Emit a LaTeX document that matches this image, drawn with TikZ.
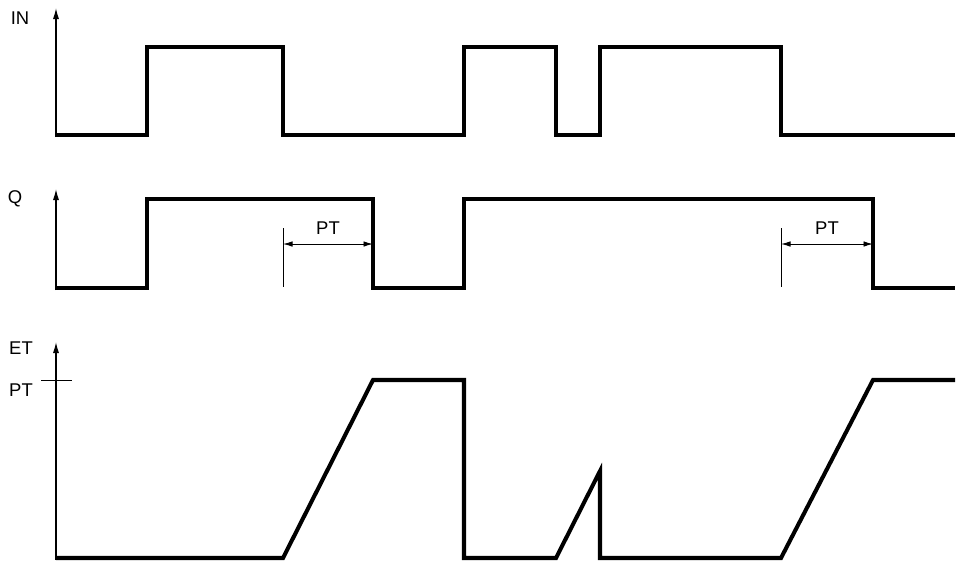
\documentclass[tikz,border=0pt]{standalone}
\usepackage{fontspec}
\setmainfont{Liberation Sans}
\usetikzlibrary{arrows.meta}
\tikzset{
  ax/.style={-{Latex[length=2.2mm,width=1.2mm]},line width=0.7pt},
  sig/.style={line width=2.3pt,line join=miter},
  hilf/.style={line width=0.5pt},
  mass/.style={{Latex[length=1.9mm,width=1.1mm]}-{Latex[length=1.9mm,width=1.1mm]},line width=0.5pt},
  lab/.style={font=\fontsize{10.5}{12}\selectfont,inner sep=0pt},
}
\begin{document}
\begin{tikzpicture}[x=0.02cm,y=-0.02cm]
  \useasboundingbox (0,0) rectangle (957,562);
  % IN
  \coordinate (in0) at (56,137);
  \coordinate (in1) at (56,8);
  \draw[ax] (in0) -- (in1);
  \node[lab] (inlab) at (20,18) {IN};
  \draw[sig] (56,135) -| (147,47) -| (283,135) -| (464,47) -| (556,135) -| (600,47) -| (781,135) -- (955,135);
  % Q
  \coordinate (q0) at (56,290);
  \coordinate (q1) at (56,189);
  \draw[ax] (q0) -- (q1);
  \node[lab] (qlab) at (15,199) {Q};
  \draw[sig] (56,288) -| (147,199) -| (373,288) -| (464,199) -| (873,288) -- (955,288);
  \draw[hilf] (283,228) -- (283,287);
  \draw[hilf] (781,228) -- (781,287);
  \coordinate (pa) at (283,244);
  \coordinate (pb) at (373,244);
  \coordinate (pc) at (781,244);
  \coordinate (pd) at (873,244);
  \draw[mass] (pa) -- (pb) node[lab,midway,above=5pt] (pt1) {PT};
  \draw[mass] (pc) -- (pd) node[lab,midway,above=5pt] (pt2) {PT};
  % ET
  \coordinate (et0) at (56,560);
  \coordinate (et1) at (56,342);
  \draw[ax] (et0) -- (et1);
  \node[lab] (etlab) at (21,348) {ET};
  \node[lab] (ptlab) at (21,390) {PT};
  \draw[hilf] (41,380) -- (72,380);
  \draw[sig] (56,558) -- (283,558) -- (373,380) -- (464,380) -- (464,558) -- (556,558)
    -- (600,471) -- (600,558) -- (781,558) -- (873,380) -- (955,380);
\end{tikzpicture}
\end{document}
